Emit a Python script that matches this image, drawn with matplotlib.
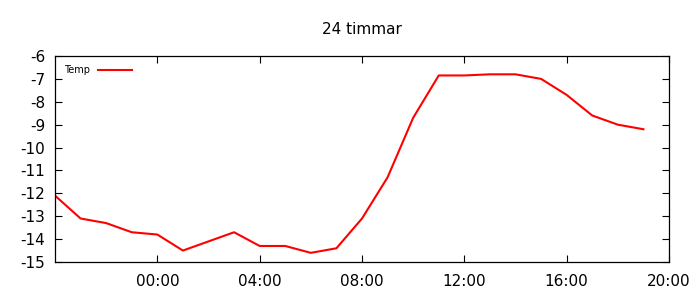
import matplotlib
matplotlib.use("Agg")
import matplotlib.pyplot as plt
import matplotlib.dates as mdates
import pandas as pd

plt.rcParams["axes.unicode_minus"] = False

times = [
    "2024-01-01 20:00", "2024-01-01 21:00", "2024-01-01 22:00", "2024-01-01 23:00",
    "2024-01-02 00:00", "2024-01-02 01:00", "2024-01-02 02:00", "2024-01-02 03:00",
    "2024-01-02 04:00", "2024-01-02 05:00", "2024-01-02 06:00", "2024-01-02 07:00",
    "2024-01-02 08:00", "2024-01-02 09:00", "2024-01-02 10:00", "2024-01-02 11:00",
    "2024-01-02 12:00", "2024-01-02 13:00", "2024-01-02 14:00", "2024-01-02 15:00",
    "2024-01-02 16:00", "2024-01-02 17:00", "2024-01-02 18:00", "2024-01-02 19:00",
]
temp = [
    -12.1, -13.1, -13.3, -13.7, -13.8, -14.5, -14.1, -13.7,
    -14.3, -14.3, -14.6, -14.4, -13.1, -11.3, -8.7, -6.85,
    -6.85, -6.8, -6.8, -7.0, -7.7, -8.6, -9.0, -9.2,
]
tick_times = ["2024-01-02 00:00", "2024-01-02 04:00", "2024-01-02 08:00",
              "2024-01-02 12:00", "2024-01-02 16:00", "2024-01-02 20:00"]
x_start, x_end = "2024-01-01 20:00", "2024-01-02 20:00"
y_ticks = [-6, -7, -8, -9, -10, -11, -12, -13, -14, -15]

x = pd.to_datetime(times)

fig = plt.figure(figsize=(7, 3), dpi=100)
ax = fig.add_axes([55 / 700, 38 / 300, 614 / 700, 206 / 300])

ax.plot(x, temp, color="#ff0000", lw=1.5, label="Temp")

ax.set_xlim(pd.Timestamp(x_start), pd.Timestamp(x_end))
ax.set_ylim(-15, -6)
ax.set_xticks(pd.to_datetime(tick_times))
ax.xaxis.set_major_formatter(mdates.DateFormatter("%H:%M"))
ax.set_yticks(y_ticks)

ax.tick_params(direction="in", length=5, width=0.8, top=True, right=True,
               labelsize=11, pad=7)
ax.tick_params(axis="x", pad=9)
for s in ax.spines.values():
    s.set_linewidth(0.9)

fig.text(362 / 700, 1 - 30 / 300, "24 timmar", ha="center", va="center", fontsize=11)

ax.legend(loc="upper left", frameon=False, fontsize=7, markerfirst=False,
          handlelength=3.5, handletextpad=0.8, borderaxespad=0.0,
          bbox_to_anchor=(0.008, 0.975))

fig.savefig("out.png", dpi=100)
